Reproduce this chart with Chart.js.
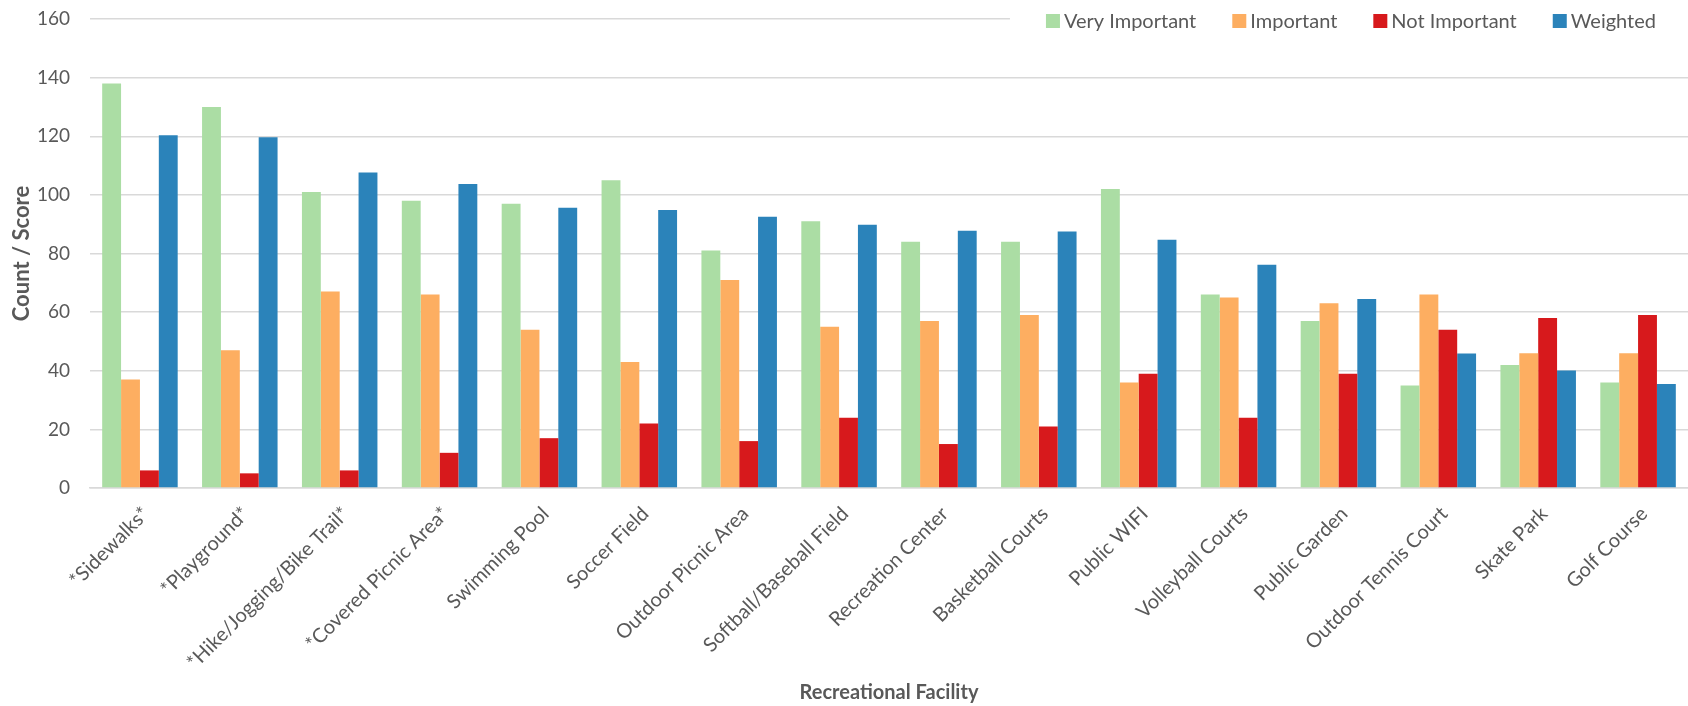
<!DOCTYPE html>
<html>
<head>
<meta charset="utf-8">
<title>Recreational Facility Ratings</title>
<script src="https://cdn.jsdelivr.net/npm/chart.js@4.4.1/dist/chart.umd.min.js"></script>
<style>
    html, body { margin: 0; padding: 0; background: #ffffff; }
    #wrap { width: 1688px; height: 706px; position: relative; }
</style>
</head>
<body>
<div id="wrap"><canvas id="facilityChart"></canvas></div>
<script>
const facilities = [
    "*Sidewalks*", "*Playground*", "*Hike/Jogging/Bike Trail*", "*Covered Picnic Area*",
    "Swimming Pool", "Soccer Field", "Outdoor Picnic Area", "Softball/Baseball Field",
    "Recreation Center", "Basketball Courts", "Public WIFI", "Volleyball Courts",
    "Public Garden", "Outdoor Tennis Court", "Skate Park", "Golf Course"
];

const veryImportant = [138, 130, 101, 98, 97, 105, 81, 91, 84, 84, 102, 66, 57, 35, 42, 36];
const important = [37, 47, 67, 66, 54, 43, 71, 55, 57, 59, 36, 65, 63, 66, 46, 46];
const notImportant = [6, 5, 6, 12, 17, 22, 16, 24, 15, 21, 39, 24, 39, 54, 58, 59];
const weighted = [120.3, 119.7, 107.6, 103.7, 95.6, 94.8, 92.5, 89.8, 87.8, 87.5, 84.7, 76.2, 64.5, 45.9, 40.1, 35.5];

const yTicks = [0, 20, 40, 60, 80, 100, 120, 140, 160];

const FONT = "Lato";
const TEXT = "#595959";
const GRID = "#d9d9d9";

// legend sits inside the plot, top right, over a white patch
const insideLegend = {
    id: "insideLegend",
    afterDraw(chart) {
        const ctx = chart.ctx;
        const area = chart.chartArea;
        ctx.save();
        ctx.font = "20px " + FONT;
        ctx.textBaseline = "middle";
        const box = 14, gap = 4, spacing = 36;
        const items = chart.data.datasets.map(ds => ({
            label: ds.label,
            color: ds.backgroundColor,
            w: ctx.measureText(ds.label).width
        }));
        let total = 0;
        items.forEach((it, i) => {
            total += box + gap + it.w + (i < items.length - 1 ? spacing : 0);
        });
        const right = 1656;
        let x = right - total;
        const cy = area.top + 2;

        ctx.fillStyle = "#ffffff";
        ctx.fillRect(x - 36, cy - 14, area.right - (x - 36), 30);

        items.forEach(it => {
            ctx.fillStyle = it.color;
            ctx.fillRect(x, cy - box / 2, box, box);
            x += box + gap;
            ctx.fillStyle = TEXT;
            ctx.fillText(it.label, x, cy + 1);
            x += it.w + spacing;
        });
        ctx.restore();
    }
};

new Chart(document.getElementById("facilityChart"), {
    type: "bar",
    data: {
        labels: facilities,
        datasets: [
            { label: "Very Important", data: veryImportant, backgroundColor: "#abdda4" },
            { label: "Important", data: important, backgroundColor: "#fdae61" },
            { label: "Not Important", data: notImportant, backgroundColor: "#d7191c" },
            { label: "Weighted", data: weighted, backgroundColor: "#2b83ba" }
        ]
    },
    options: {
        responsive: true,
        maintainAspectRatio: false,
        animation: false,
        devicePixelRatio: 1,
        layout: { padding: { top: 19, right: 0, left: 0, bottom: 0 } },
        datasets: {
            bar: { categoryPercentage: 0.756, barPercentage: 1.0 }
        },
        plugins: {
            legend: { display: false },
            tooltip: { enabled: false }
        },
        scales: {
            x: {
                grid: { display: false, drawTicks: false },
                border: { display: true, color: GRID, width: 1.5 },
                ticks: {
                    color: TEXT,
                    font: { family: FONT, size: 20 },
                    minRotation: 45,
                    maxRotation: 45,
                    padding: 14,
                    labelOffset: 6,
                    autoSkip: false
                },
                title: {
                    display: true,
                    text: "Recreational Facility",
                    color: TEXT,
                    font: { family: FONT, size: 20, weight: "bold" },
                    padding: { top: 0, bottom: 1 }
                },
                afterFit(scale) { scale.height = 218; }
            },
            y: {
                min: 0,
                max: 160,
                afterBuildTicks(scale) {
                    scale.ticks = yTicks.map(v => ({ value: v }));
                },
                // invisible tick marks keep the labels off the plot without
                // pushing the top of the plot down
                grid: {
                    color: GRID,
                    lineWidth: 1.5,
                    drawTicks: true,
                    tickLength: 18,
                    tickColor: "rgba(0,0,0,0)"
                },
                border: { display: false },
                ticks: {
                    color: TEXT,
                    font: { family: FONT, size: 19 },
                    padding: 2
                },
                title: {
                    display: true,
                    text: "Count / Score",
                    color: TEXT,
                    font: { family: FONT, size: 22, weight: "bold" },
                    padding: { top: 9, bottom: 0 }
                },
                afterFit(scale) { scale.width = 90; }
            }
        }
    },
    plugins: [insideLegend]
});
</script>
</body>
</html>
